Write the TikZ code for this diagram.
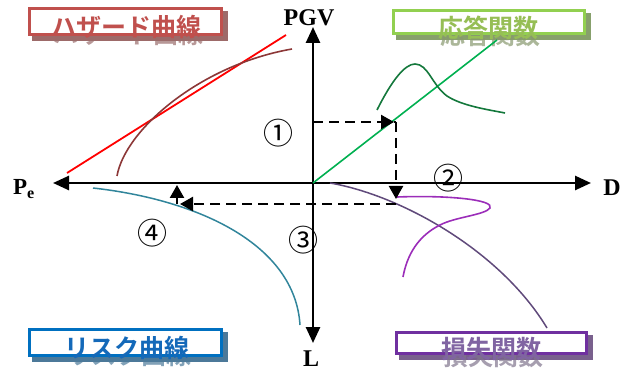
\documentclass[tikz,border=0pt]{standalone}
\usepackage{fontspec}
\setmainfont{Liberation Serif}
\newfontfamily\jp[BoldFont={Noto Sans CJK JP Bold}]{Noto Sans CJK JP}
\usetikzlibrary{arrows.meta,backgrounds}
\definecolor{hz}{RGB}{192,80,77}
\definecolor{rsb}{RGB}{146,208,80}
\definecolor{rst}{RGB}{150,190,85}
\definecolor{rkb}{RGB}{0,112,192}
\definecolor{rkt}{RGB}{20,105,185}
\definecolor{lsb}{RGB}{112,48,160}
\definecolor{lst}{RGB}{128,100,162}
\definecolor{brn}{RGB}{140,55,55}
\definecolor{gln}{RGB}{0,176,80}
\definecolor{dgr}{RGB}{20,120,60}
\definecolor{teal2}{RGB}{49,133,155}
\definecolor{dpu}{RGB}{96,74,123}
\definecolor{bpu}{RGB}{155,45,185}
\tikzset{
  ax/.style={line width=2.6pt},
  dsh/.style={line width=2.3pt, dash pattern=on 10pt off 6pt},
  dtip/.style={-{Triangle[length=13pt,width=14pt]}},
  lbox/.style={draw=#1, line width=3pt, fill=white, inner sep=0pt},
  ltext/.style={text=#1, font=\jp\bfseries\fontsize{25}{25}\selectfont, inner sep=0pt},
  circnum/.style={font=\jp\fontsize{30}{30}\selectfont, inner sep=0pt},
  axlab/.style={font=\bfseries\fontsize{24}{24}\selectfont, inner sep=0pt},
}
\begin{document}
\begin{tikzpicture}[x=1pt,y=-1pt]
\useasboundingbox (0,0) rectangle (623,371);
% axes
\coordinate (O) at (313,183);
\coordinate (Pt) at (53,183);
\coordinate (Dt) at (591,183);
\coordinate (Vt) at (313,27);
\coordinate (Lt) at (313,343);
\draw[ax,{Triangle[length=16pt,width=14pt]}-{Triangle[length=16pt,width=14pt]}] (Pt) -- (Dt);
\draw[ax,{Triangle[length=16pt,width=14pt]}-{Triangle[length=16pt,width=14pt]}] (Vt) -- (Lt);
\node[axlab] (pgv) at (309,18) {PGV};
\node[axlab] (dl) at (612,188) {D};
\node[axlab] (ll) at (311,359) {L};
\node[axlab, font=\bfseries\fontsize{23}{23}\selectfont] (pe) at (24,189) {P$_{\mathbf e}$};
% hazard
\draw[red, line width=1.8pt] (67,173) -- (286,35);
\draw[brn, line width=1.6pt] (117,176) .. controls (125,130) and (200,65) .. (292,49);
% response
\draw[gln, line width=1.6pt] (O) -- (497,40);
\draw[dgr, line width=1.6pt] (377,110) .. controls (392,80) and (405,64) .. (415,64)
  .. controls (428,64) and (432,85) .. (447,96) .. controls (462,106) and (490,110) .. (505,113);
% risk
\draw[teal2, line width=1.5pt] (93,188) .. controls (200,200) and (295,245) .. (300,325);
% loss
\draw[dpu, line width=1.5pt] (330,183) .. controls (400,195) and (500,250) .. (547,328);
\draw[bpu, line width=1.6pt] (397,197) .. controls (450,195) and (495,200) .. (490,208)
  .. controls (485,215) and (455,217) .. (440,225) .. controls (418,236) and (407,255) .. (403,277);
% dashed path
\coordinate (d1) at (313,122);
\coordinate (d2) at (394,122);
\coordinate (c1) at (396,122);
\coordinate (d3) at (396,199);
\coordinate (c2) at (396,204);
\coordinate (d4) at (180,204);
\coordinate (c3) at (177,204);
\coordinate (d5) at (177,185);
\draw[dsh,dtip] (d1) -- (d2);
\draw[dsh] (d2) -- (c1);
\draw[dsh,dtip] (c1) -- (d3);
\draw[dsh,dtip] (c2) -- (d4);
\draw[line width=2.3pt,dtip] (c3) -- (d5);
% circled numbers
\node[circnum] (n1) at (278,133) {①};
\node[circnum] (n2) at (448,178) {②};
\node[circnum] (n3) at (303,240) {③};
\node[circnum] (n4) at (152,233) {④};
% label boxes
\node[lbox=hz, minimum width=192pt, minimum height=26pt] (hzbox) at (125.5,22) {};
\node[ltext=hz] (hztext) at (126,27) {ハザード曲線};
\node[lbox=rsb, minimum width=191pt, minimum height=23pt] (rsbox) at (489,22.5) {};
\node[ltext=rst] (rstext) at (488,27.5) {応答関数};
\node[lbox=rkb, minimum width=192pt, minimum height=26pt] (rkbox) at (125.5,342.5) {};
\node[ltext=rkt] (rktext) at (127,348) {リスク曲線};
\node[lbox=lsb, minimum width=190pt, minimum height=21pt] (lsbox) at (491.5,343) {};
\node[ltext=lst] (lstext) at (491,349) {損失関数};
\begin{scope}[on background layer]
  \fill[hz!45!gray] ([shift={(4,4)}]hzbox.north west) rectangle ([shift={(5,5)}]hzbox.south east);
  \node[ltext=hz!40!gray, opacity=0.7] at (128,34) {ハザード曲線};
  \fill[rsb!40!gray] ([shift={(4,4)}]rsbox.north west) rectangle ([shift={(5,5)}]rsbox.south east);
  \node[ltext=rst!40!gray, opacity=0.7] at (490,34.5) {応答関数};
  \fill[rkb!40!gray] ([shift={(4,4)}]rkbox.north west) rectangle ([shift={(5,5)}]rkbox.south east);
  \node[ltext=rkb!40!gray, opacity=0.7] at (129,355) {リスク曲線};
  \fill[lsb!40!gray] ([shift={(4,4)}]lsbox.north west) rectangle ([shift={(5,5)}]lsbox.south east);
  \node[ltext=lst!40!gray, opacity=0.7] at (493,356) {損失関数};
\end{scope}
\end{tikzpicture}
\end{document}
